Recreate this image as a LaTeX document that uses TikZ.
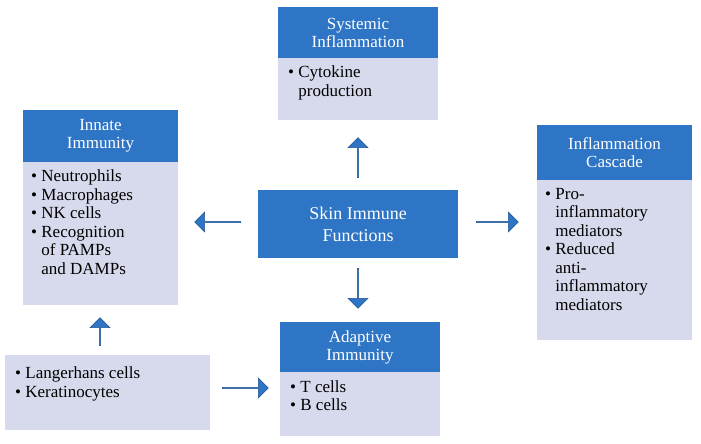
\documentclass[tikz,border=0pt]{standalone}
\usepackage{fontspec}
\setmainfont{Liberation Serif}
\usetikzlibrary{shapes.arrows,positioning}
\definecolor{hb}{HTML}{2E75C6}
\definecolor{bd}{HTML}{D7DAEC}
\begin{document}
\begin{tikzpicture}[x=1pt,y=-1pt,
 hdr/.style={fill=hb,text=white,font=\fontsize{17}{18}\selectfont,align=center,inner sep=0},
 body/.style={fill=bd,font=\fontsize{17}{18.5}\selectfont,align=left,inner sep=0},
 barr/.style={single arrow,fill=hb,draw=hb!70!black,line width=0.5pt,minimum width=20pt,single arrow head extend=4pt,single arrow head indent=0pt,inner sep=0}]
\useasboundingbox (0,0) rectangle (701,444);
% Systemic
\fill[hb] (278,7) rectangle (438,58);
\node[hdr] (sysh) at (358,32.5) {Systemic\\Inflammation};
\fill[bd] (278,58) rectangle (438,120);
\node[body,anchor=north west] (sysb) at (288,66) {\textbullet\ Cytokine\\\phantom{\textbullet\ }production};
% Innate
\fill[hb] (23,110) rectangle (178,162);
\node[hdr] (innh) at (100.5,136) {Innate\\Immunity};
\fill[bd] (23,162) rectangle (178,305);
\node[body,anchor=north west] (innb) at (31,170) {\textbullet\ Neutrophils\\\textbullet\ Macrophages\\\textbullet\ NK cells\\\textbullet\ Recognition\\\phantom{\textbullet\ }of PAMPs\\\phantom{\textbullet\ }and DAMPs};
% Center
\fill[hb] (258,190) rectangle (458,258);
\node[hdr,font=\fontsize{18}{22}\selectfont] (ctr) at (358,224) {Skin Immune\\Functions};
% Cascade
\fill[hb] (537,125) rectangle (692,180);
\node[hdr] (cash) at (614.5,152.5) {Inflammation\\Cascade};
\fill[bd] (537,180) rectangle (692,340);
\node[body,anchor=north west] (casb) at (545,188) {\textbullet\ Pro-\\\phantom{\textbullet\ }inflammatory\\\phantom{\textbullet\ }mediators\\\textbullet\ Reduced\\\phantom{\textbullet\ }anti-\\\phantom{\textbullet\ }inflammatory\\\phantom{\textbullet\ }mediators};
% Adaptive
\fill[hb] (280,322) rectangle (440,372);
\node[hdr] (adh) at (360,347) {Adaptive\\Immunity};
\fill[bd] (280,372) rectangle (440,436);
\node[body,anchor=north west] (adb) at (290,380) {\textbullet\ T cells\\\textbullet\ B cells};
% Langerhans
\fill[bd] (5,355) rectangle (210,430);
\node[body,anchor=north west] (lang) at (15,367) {\textbullet\ Langerhans cells\\\textbullet\ Keratinocytes};
% arrows
\node[barr,shape border rotate=90,minimum height=40pt] (a1) at (358,158) {};
\node[barr,shape border rotate=180,minimum height=46pt] (a2) at (218,222) {};
\node[barr,minimum height=42pt] (a3) at (497,222) {};
\node[barr,shape border rotate=270,minimum height=40pt] (a4) at (358,288) {};
\node[barr,shape border rotate=90,minimum height=28pt] (a5) at (100,332) {};
\node[barr,minimum height=46pt] (a6) at (245,388) {};
\end{tikzpicture}
\end{document}
